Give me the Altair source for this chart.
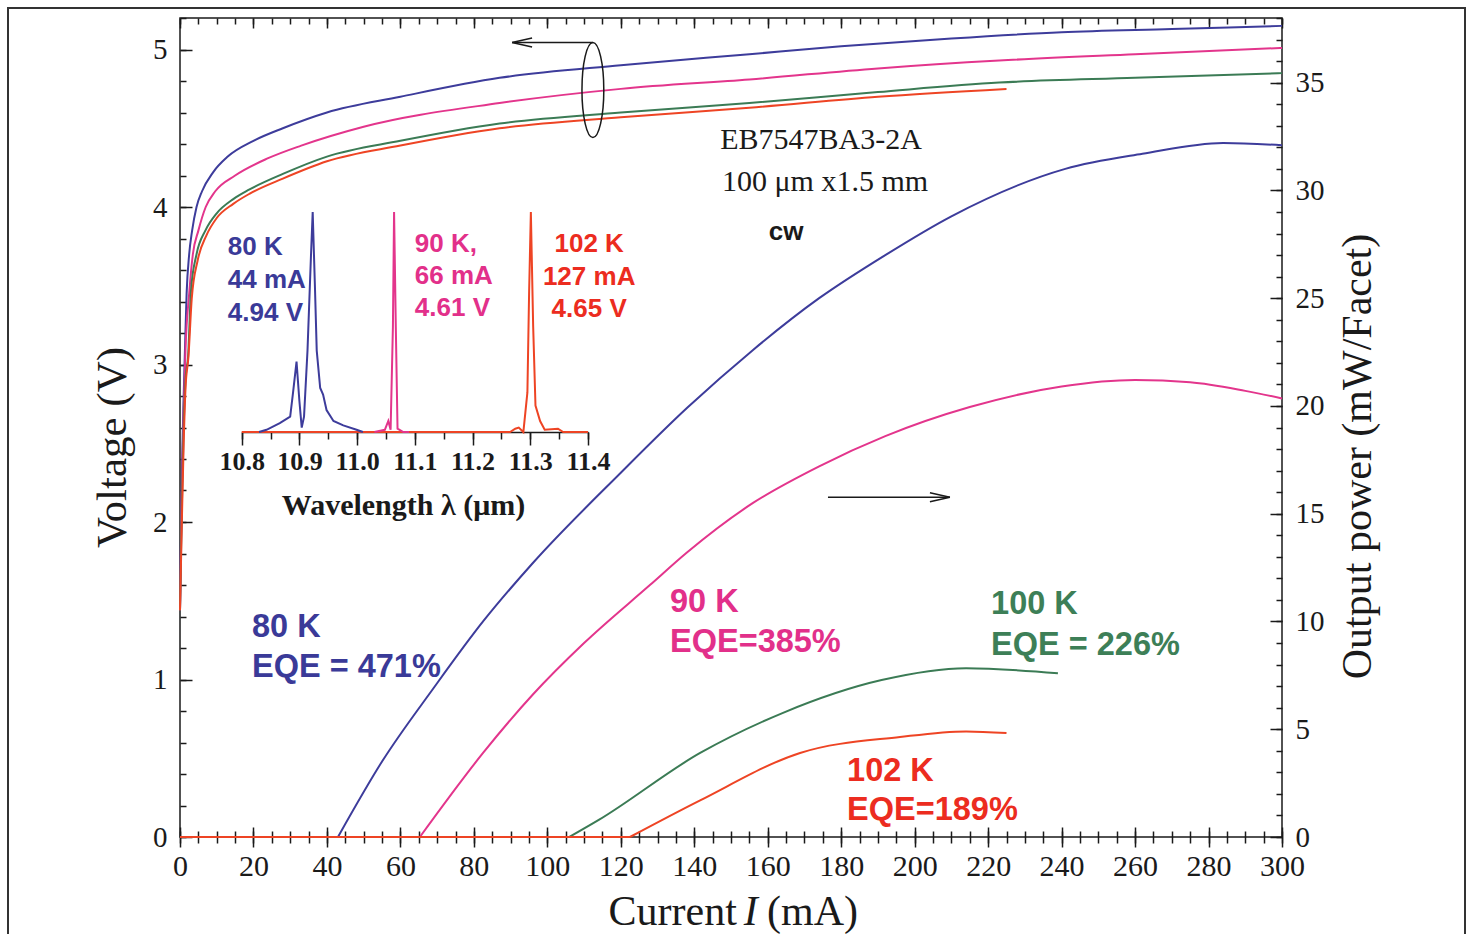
import altair as alt
import pandas as pd

# ---------------- data ----------------
# I-V curves (current mA, voltage V)
iv80_I = [0, 0.5, 1, 1.3, 1.8, 2.5, 3.3, 4.5, 6, 9, 13, 20, 28, 40, 60, 87, 120, 155, 180, 210, 240, 270, 300]
iv80_V = [1.44, 2.3, 2.8, 3.05, 3.45, 3.7, 3.85, 4.0, 4.1, 4.22, 4.32, 4.42, 4.5, 4.6, 4.7, 4.82, 4.9, 4.97, 5.02, 5.07, 5.11, 5.13, 5.15]
iv90_I = [0, 0.5, 1, 1.5, 2.5, 3.5, 5, 7, 9.6, 15, 24, 33, 50, 87, 120, 155, 190, 223, 260, 300]
iv90_V = [1.44, 2.2, 2.7, 3.1, 3.45, 3.7, 3.85, 4.0, 4.1, 4.2, 4.31, 4.39, 4.51, 4.66, 4.75, 4.81, 4.88, 4.93, 4.97, 5.01]
iv100_I = [0, 0.5, 1, 1.5, 2.2, 3, 4.5, 6.9, 10, 14.5, 18.8, 28, 40, 60, 87, 120, 155, 190, 223, 260, 300]
iv100_V = [1.44, 2.1, 2.6, 2.9, 3.05, 3.47, 3.7, 3.85, 3.96, 4.05, 4.11, 4.21, 4.32, 4.42, 4.53, 4.6, 4.66, 4.73, 4.79, 4.82, 4.85]
iv102_I = [0, 0.5, 1, 1.5, 2.3, 3.2, 4.8, 7.2, 10, 14.5, 19, 28, 40, 60, 87, 120, 155, 190, 225]
iv102_V = [1.44, 2.0, 2.5, 2.85, 3.05, 3.42, 3.66, 3.82, 3.93, 4.02, 4.085, 4.18, 4.29, 4.39, 4.5, 4.57, 4.63, 4.7, 4.75]

# L-I curves (current mA, output power mW/facet); second point is the lasing threshold
li80_I = [0, 43, 55, 69, 82.5, 96, 120, 138, 156, 174, 192, 210, 241, 262, 284, 300]
li80_P = [0, 0, 3.5, 6.9, 10.0, 12.7, 16.9, 19.9, 22.6, 25.0, 27.0, 28.8, 31.0, 31.7, 32.2, 32.1]
li90_I = [0, 65.3, 82.5, 96, 110, 128, 138, 156, 174, 192, 215, 240, 260, 275, 290, 300]
li90_P = [0, 0, 3.9, 6.6, 9.0, 11.7, 13.2, 15.5, 17.2, 18.6, 19.95, 20.9, 21.2, 21.1, 20.7, 20.35]
li100_I = [0, 106, 114, 141.6, 164, 191, 214, 239]
li100_P = [0, 0, 0.79, 3.9, 5.75, 7.28, 7.83, 7.6]
li102_I = [0, 122.5, 141.6, 168.8, 196, 214, 225]
li102_P = [0, 0, 1.7, 3.9, 4.64, 4.9, 4.82]

# inset spectra (wavelength um, normalised intensity)
sp80_wl = [10.83, 10.843, 10.866, 10.884, 10.889, 10.895, 10.900, 10.904, 10.908, 10.914, 10.920, 10.923,
           10.927, 10.930, 10.936, 10.941, 10.947, 10.959, 10.976, 10.999, 11.01]
sp80_int = [0.0, 0.01, 0.04, 0.07, 0.18, 0.32, 0.14, 0.02, 0.07, 0.37, 0.80, 1.0,
            0.65, 0.37, 0.20, 0.17, 0.10, 0.05, 0.03, 0.01, 0.0]
sp90_wl = [11.03, 11.048, 11.054, 11.058, 11.062, 11.064, 11.067, 11.070, 11.08, 11.09]
sp90_int = [0.0, 0.01, 0.05, 0.01, 0.48, 1.0, 0.48, 0.015, 0.0, 0.0]
sp102_wl = [10.8, 11.265, 11.274, 11.280, 11.288, 11.295, 11.298, 11.301, 11.305, 11.309, 11.317, 11.325,
            11.348, 11.357, 11.4]
sp102_int = [0.0, 0.0, 0.015, 0.02, 0.0, 0.18, 0.64, 1.0, 0.48, 0.12, 0.05, 0.01, 0.015, 0.0, 0.0]

# tick values
x_major = [0, 20, 40, 60, 80, 100, 120, 140, 160, 180, 200, 220, 240, 260, 280, 300]
x_minor = list(range(0, 301, 5))
v_major = [0, 1, 2, 3, 4, 5]
v_minor = [round(0.2 * i, 1) for i in range(27)]
p_major = [0, 5, 10, 15, 20, 25, 30, 35]
p_minor = list(range(0, 39))
wl_major = [10.8, 10.9, 11.0, 11.1, 11.2, 11.3, 11.4]
wl_minor = [round(10.8 + 0.05 * i, 2) for i in range(13)]

# annotations
ann_text = ["80 K", "EQE = 471%", "90 K", "EQE=385%", "100 K", "EQE = 226%", "102 K", "EQE=189%"]
ann_I = [19.6, 19.6, 133.4, 133.4, 220.8, 220.8, 181.6, 181.6]
ann_P = [9.74, 7.89, 10.90, 9.05, 10.81, 8.91, 3.06, 1.25]
ann_col = ["#3a3a98", "#3a3a98", "#e2308a", "#e2308a", "#3d7f57", "#3d7f57", "#ec2c20", "#ec2c20"]

hdr_text = ["EB7547BA3-2A", "100 μm x1.5 mm"]
hdr_I = [174.5, 175.6]
hdr_P = [32.34, 30.39]
cw_text = ["cw"]
cw_I = [165]
cw_P = [28.07]

# x-axis title pieces (plain / italic / plain), placed below the axis
xt_text = ["Current", "I", "(mA)"]
xt_I = [151.6, 155.4, 159.8]
xt_P = [-3.48, -3.48, -3.48]

inset_text = ["80 K", "44 mA", "4.94 V", "90 K,", "66 mA", "4.61 V", "102 K", "127 mA", "4.65 V"]
inset_wl = [10.776, 10.776, 10.776, 11.100, 11.100, 11.100, 11.402, 11.402, 11.402]
inset_int = [0.841, 0.691, 0.541, 0.855, 0.709, 0.564, 0.855, 0.705, 0.559]
inset_col = ["#3a3a98"] * 3 + ["#e2308a"] * 3 + ["#ec2c20"] * 3
inset_align = ["left"] * 6 + ["center"] * 3

# ellipse and arrows
ell_I = [112.4]
ell_V = [4.743]
larrow_I = [90.4, 112.4]
larrow_V = [5.044, 5.044]
rarrow_I = [176.4, 209.6]
rarrow_P = [15.76, 15.76]

C80, C90, C100, C102 = "#3d3c9b", "#e3358c", "#3b7b55", "#ee4424"
SERIF = "Liberation Serif"
SANS = "Liberation Sans"
INK = "#1a1a1a"

W, H = 1102, 819

sx = alt.Scale(domain=[0, 300], nice=False, zero=False)
sv = alt.Scale(domain=[0, 5.2], nice=False, zero=False)
sp = alt.Scale(domain=[0, 38], nice=False, zero=False)
swl = alt.Scale(domain=[10.8, 11.4], range=[61.7, 408], nice=False, zero=False)
sint = alt.Scale(domain=[0, 1], range=[414, 194], nice=False, zero=False)

common = dict(tickColor=INK, tickWidth=1.5, domain=False, grid=False, labelFlush=False, labelOverlap=False)

ax_top_major = alt.Axis(orient="top", values=x_major, tickSize=10, offset=-10, labels=False, title=None, **common)
ax_top_minor = alt.Axis(orient="top", values=x_minor, tickSize=6, offset=-6, labels=False, title=None, **common)
ax_bot_major = alt.Axis(orient="bottom", values=x_major, tickSize=20, offset=-10, labelPadding=4, format="d",
                        labelFontSize=30, title=None, **common)
ax_bot_minor = alt.Axis(orient="bottom", values=x_minor, tickSize=12, offset=-6, labels=False, title=None, **common)
ax_left_major = alt.Axis(orient="left", values=v_major, tickSize=12, offset=-12, labelPadding=13, format="d",
                         title="Voltage (V)", titleAngle=270, titleX=-80, titleY=429, titleBaseline="middle",
                         titleAlign="center", titleFontSize=43, **common)
ax_left_minor = alt.Axis(orient="left", values=v_minor, tickSize=6, offset=-6, labels=False, title=None, **common)
ax_right_major = alt.Axis(orient="right", values=p_major, tickSize=12, offset=-12, labelPadding=13, format="d",
                          title="Output power (mW/Facet)", titleAngle=270, titleX=87, titleY=438,
                          titleBaseline="middle", titleAlign="center", titleFontSize=42, **common)
ax_right_minor = alt.Axis(orient="right", values=p_minor, tickSize=6, offset=-6, labels=False, title=None, **common)
ax_wl_major = alt.Axis(orient="bottom", values=wl_major, tickSize=13, offset=-405, format=".1f",
                       domain=True, domainColor=INK, domainWidth=1.5, tickColor=INK, tickWidth=1.5,
                       grid=False, labelFlush=False, labelOverlap=False, labelPadding=3,
                       labelFontSize=26, labelFontWeight="bold", labelFont=SERIF,
                       title="Wavelength λ (μm)", titleFontSize=30, titleFontWeight="bold", titleFont=SERIF,
                       titleX=223, titleY=73, titleBaseline="middle")
ax_wl_minor = alt.Axis(orient="bottom", values=wl_minor, tickSize=7, offset=-405, labels=False, title=None,
                       **common)


def mkdf(xs, ys, xn, yn):
    return pd.DataFrame({xn: xs, yn: ys})


df_iv = {k: mkdf(a, b, "I", "V") for k, a, b in [
    ("80", iv80_I, iv80_V), ("90", iv90_I, iv90_V), ("100", iv100_I, iv100_V), ("102", iv102_I, iv102_V)]}
li_src = {"80": (li80_I, li80_P), "90": (li90_I, li90_P), "100": (li100_I, li100_P), "102": (li102_I, li102_P)}
# below threshold (flat part) and above threshold (lasing part)
df_li_flat = {k: mkdf(a[:2], b[:2], "I", "P") for k, (a, b) in li_src.items()}
df_li_rise = {k: mkdf(a[1:], b[1:], "I", "P") for k, (a, b) in li_src.items()}
df_sp = {k: mkdf(a, b, "wl", "int") for k, a, b in [
    ("80", sp80_wl, sp80_int), ("90", sp90_wl, sp90_int), ("102", sp102_wl, sp102_int)]}
cols = {"80": C80, "90": C90, "100": C100, "102": C102}


def line(df, xf, yf, xs_, ys_, color, xax=None, yax=None, interp="monotone", width=2.0):
    return alt.Chart(df).mark_line(color=color, strokeWidth=width, interpolate=interp).encode(
        x=alt.X(xf, scale=xs_, axis=xax), y=alt.Y(yf, scale=ys_, axis=yax))


layers = []

border = alt.Chart(pd.DataFrame({"k": [0]})).mark_rect(fill=None, stroke="#333333", strokeWidth=2).encode(
    x=alt.value(-172), x2=alt.value(1285), y=alt.value(-10), y2=alt.value(940))
layers.append(border)

layers.append(alt.Chart(df_iv["80"]).mark_line(opacity=0).encode(
    x=alt.X("I:Q", scale=sx, axis=ax_top_minor), y=alt.Y("V:Q", scale=sv, axis=ax_left_minor)))
layers.append(alt.Chart(df_li_rise["80"]).mark_line(opacity=0).encode(
    x=alt.X("I:Q", scale=sx, axis=ax_bot_minor), y=alt.Y("P:Q", scale=sp, axis=ax_right_minor)))
layers.append(alt.Chart(df_sp["102"]).mark_line(opacity=0).encode(
    x=alt.X("wl:Q", scale=swl, axis=ax_wl_minor), y=alt.Y("int:Q", scale=sint, axis=None)))

for i, k in enumerate(["80", "90", "100", "102"]):
    layers.append(line(df_iv[k], "I:Q", "V:Q", sx, sv, cols[k],
                       ax_top_major if i == 0 else None, ax_left_major if i == 0 else None))
for i, k in enumerate(["80", "90", "100", "102"]):
    layers.append(line(df_li_rise[k], "I:Q", "P:Q", sx, sp, cols[k],
                       ax_bot_major if i == 0 else None, ax_right_major if i == 0 else None,
                       interp="monotone"))
for k in ["80", "90", "100", "102"]:
    layers.append(line(df_li_flat[k], "I:Q", "P:Q", sx, sp, cols[k], interp="linear"))

layers.append(alt.Chart(pd.DataFrame({"t": ann_text, "I": ann_I, "P": ann_P, "c": ann_col})).mark_text(
    font=SANS, fontWeight="bold", fontSize=32.5, align="left", baseline="middle").encode(
    x=alt.X("I:Q", scale=sx, axis=None), y=alt.Y("P:Q", scale=sp, axis=None),
    text="t:N", color=alt.Color("c:N", scale=None)))
layers.append(alt.Chart(pd.DataFrame({"t": hdr_text, "I": hdr_I, "P": hdr_P})).mark_text(
    font=SERIF, fontSize=30, align="center", baseline="middle", color=INK).encode(
    x=alt.X("I:Q", scale=sx, axis=None), y=alt.Y("P:Q", scale=sp, axis=None), text="t:N"))
layers.append(alt.Chart(pd.DataFrame({"t": cw_text, "I": cw_I, "P": cw_P})).mark_text(
    font=SANS, fontWeight="bold", fontSize=26, align="center", baseline="middle", color=INK).encode(
    x=alt.X("I:Q", scale=sx, axis=None), y=alt.Y("P:Q", scale=sp, axis=None), text="t:N"))

# x-axis title with italic I
xt_df = pd.DataFrame({"t": xt_text, "I": xt_I, "P": xt_P, "k": [0, 1, 2]})
for idx, (al, st) in enumerate([("right", "normal"), ("center", "italic"), ("left", "normal")]):
    layers.append(alt.Chart(xt_df).transform_filter(alt.datum.k == idx).mark_text(
        font=SERIF, fontSize=42, align=al, baseline="middle", fontStyle=st, color=INK).encode(
        x=alt.X("I:Q", scale=sx, axis=None), y=alt.Y("P:Q", scale=sp, axis=None), text="t:N"))

ELLIPSE = ("M0,-1C0.127,-1,0.23,-0.552,0.23,0C0.23,0.552,0.127,1,0,1"
           "C-0.127,1,-0.23,0.552,-0.23,0C-0.23,-0.552,-0.127,-1,0,-1Z")
layers.append(alt.Chart(pd.DataFrame({"I": ell_I, "V": ell_V})).mark_point(
    shape=ELLIPSE, size=9025, filled=False, color=INK, strokeWidth=1.5, opacity=1).encode(
    x=alt.X("I:Q", scale=sx, axis=None), y=alt.Y("V:Q", scale=sv, axis=None)))
layers.append(line(pd.DataFrame({"I": larrow_I, "V": larrow_V}), "I:Q", "V:Q", sx, sv, INK,
                   interp="linear", width=1.5))
layers.append(alt.Chart(pd.DataFrame({"I": larrow_I[:1], "V": larrow_V[:1]})).mark_point(
    shape="M0,0L2,-0.45M0,0L2,0.45", size=400, filled=False, color=INK, strokeWidth=1.5, opacity=1).encode(
    x=alt.X("I:Q", scale=sx, axis=None), y=alt.Y("V:Q", scale=sv, axis=None)))
layers.append(line(pd.DataFrame({"I": rarrow_I, "P": rarrow_P}), "I:Q", "P:Q", sx, sp, INK,
                   interp="linear", width=1.5))
layers.append(alt.Chart(pd.DataFrame({"I": rarrow_I[1:], "P": rarrow_P[1:]})).mark_point(
    shape="M0,0L-2,-0.45M0,0L-2,0.45", size=400, filled=False, color=INK, strokeWidth=1.5, opacity=1).encode(
    x=alt.X("I:Q", scale=sx, axis=None), y=alt.Y("P:Q", scale=sp, axis=None)))

for i, k in enumerate(["102", "80", "90"]):
    layers.append(line(df_sp[k], "wl:Q", "int:Q", swl, sint, cols[k],
                       ax_wl_major if i == 0 else None, None, interp="linear", width=2.0))

inset_df = pd.DataFrame({"t": inset_text, "wl": inset_wl, "int": inset_int, "c": inset_col, "a": inset_align})
for al in ["left", "center"]:
    layers.append(alt.Chart(inset_df).transform_filter(alt.datum.a == al).mark_text(
        font=SANS, fontWeight="bold", fontSize=26, align=al, baseline="middle").encode(
        x=alt.X("wl:Q", scale=swl, axis=None), y=alt.Y("int:Q", scale=sint, axis=None),
        text="t:N", color=alt.Color("c:N", scale=None)))

chart = alt.layer(*layers).resolve_scale(x="independent", y="independent").properties(
    width=W, height=H,
    autosize=alt.AutoSizeParams(type="none"),
    padding={"left": 180, "top": 18, "right": 189, "bottom": 97},
).configure_view(stroke=INK, strokeWidth=1.5).configure_axis(
    labelFont=SERIF, titleFont=SERIF, labelFontSize=29, titleFontSize=40, labelColor=INK, titleColor=INK,
    titleFontWeight="normal"
)

chart.save("out.html", embed_options={"renderer": "svg", "actions": False})
